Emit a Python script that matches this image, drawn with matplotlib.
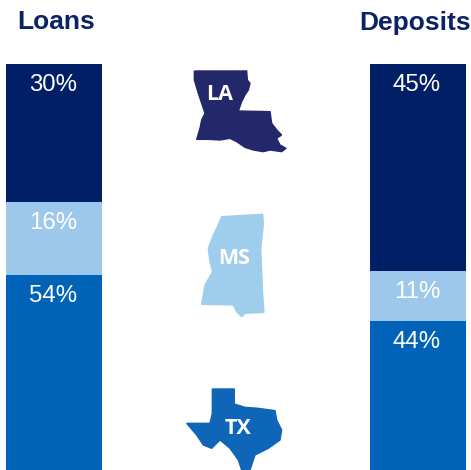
import matplotlib
matplotlib.use('Agg')
import matplotlib.pyplot as plt
from matplotlib.patches import Polygon

plt.rcParams['font.family'] = ['Liberation Sans', 'DejaVu Sans']

# shares from top of the stack to the bottom
groups = ['Loans', 'Deposits']
loans = [30, 16, 54]
deposits = [45, 11, 44]
colors = ['#001f66', '#9dc8ec', '#0063b8']
navy = '#0b2265'

# state outlines, in pixels
la_outline = [(73, 33), (230, 33), (232, 60), (240, 70), (235, 90), (225, 105), (215, 125), (205, 153),
              (300, 155), (305, 190), (322, 212), (335, 225), (320, 235), (330, 255), (348, 265), (335, 275),
              (300, 270), (280, 275), (250, 270), (225, 262), (200, 245), (180, 235), (150, 240), (115, 238),
              (80, 238), (90, 205), (95, 180), (105, 160), (95, 130), (85, 100), (73, 60)]
ms_outline = [(95, 35), (218, 28), (220, 60), (212, 130), (215, 200), (218, 270), (222, 322), (165, 325),
              (155, 335), (140, 320), (130, 300), (35, 298), (45, 240), (68, 200), (60, 170), (55, 130),
              (70, 90), (85, 60)]
tx_outline = [(112, 27), (178, 27), (178, 72), (210, 82), (250, 85), (300, 92), (305, 120), (320, 150),
              (315, 180), (280, 205), (240, 225), (225, 270), (200, 270), (190, 240), (165, 205), (135, 180),
              (110, 205), (85, 195), (65, 165), (35, 130), (105, 130), (112, 100)]

fig = plt.figure(figsize=(4.71, 4.70), dpi=100)

# bars run past the bottom of the picture, about 4.59 px per percent
px = 4.59
ax = fig.add_axes([0, 0, 1, 1])
ax.set_xlim(0, 471)
ax.set_ylim(406 / px, -64 / px)
ax.axis('off')

for x, vals in zip([54, 418], [loans, deposits]):
    bottom = 0
    for v, c in zip(vals, colors):
        ax.bar(x, v, width=96, bottom=bottom, color=c, linewidth=0)
        ax.text(x - 1, bottom + 4.6, f'{v}%', color='white', fontsize=17.3, ha='center', va='center')
        bottom += v

# overlay in pixel coordinates for the headers and state shapes
ov = fig.add_axes([0, 0, 1, 1])
ov.set_xlim(0, 471)
ov.set_ylim(470, 0)
ov.axis('off')

ov.text(56.5, 22, groups[0], color=navy, fontsize=19, fontweight='bold', ha='center', va='center')
ov.text(415, 23, groups[1], color=navy, fontsize=19, fontweight='bold', ha='center', va='center')


def state(outline, x0, y0, color, name, tx, ty):
    pts = [(x0 + x / 3, y0 + y / 3) for x, y in outline]
    ov.add_patch(Polygon(pts, closed=True, facecolor=color, edgecolor=color, linewidth=1))
    ov.text(tx, ty, name, color='white', fontsize=15.5, fontweight='bold', ha='center', va='center',
            family=['Open Sans', 'DejaVu Sans'])


state(la_outline, 170, 60, '#23286b', 'LA', 220, 95)
state(ms_outline, 190, 205, '#9fcdec', 'MS', 234, 259)
state(tx_outline, 175, 380, '#0f66b8', 'TX', 238, 429)

fig.savefig('out.png', dpi=100)
